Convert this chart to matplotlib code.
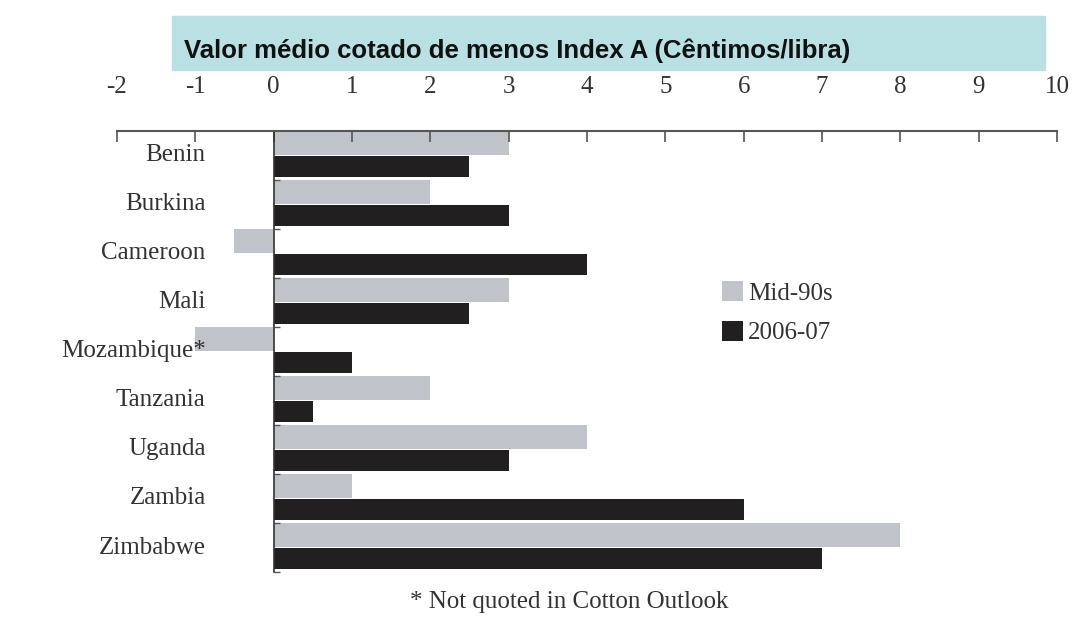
import matplotlib.pyplot as plt
from matplotlib.patches import Rectangle
import numpy as np

### data ##########################################################################

countries = ['Benin', 'Burkina', 'Cameroon', 'Mali', 'Mozambique*',
             'Tanzania', 'Uganda', 'Zambia', 'Zimbabwe']
mid90s = [3, 2, -0.5, 3, -1, 2, 4, 1, 8]
y2006_07 = [2.5, 3, 4, 2.5, 1, 0.5, 3, 6, 7]
x_ticks = list(range(-2, 11))

title = 'Valor médio cotado de menos Index A (Cêntimos/libra)'
note = '* Not quoted in Cotton Outlook'

### figure ########################################################################

serif = 'Liberation Serif'
gray = '#c0c4ca'
black = '#221f20'
fs = 18

fig = plt.figure(figsize=(10.78, 6.21), dpi=100)
ax = fig.add_axes([117 / 1078, 1 - 572 / 621, 940 / 1078, 441 / 621])

pos = np.arange(len(countries))
ax.barh(pos + 0.245, mid90s, height=0.49, color=gray, label='Mid-90s')
ax.barh(pos + 0.72, y2006_07, height=0.42, color=black, label='2006-07')

ax.set_xlim(-2, 10)
ax.set_ylim(len(countries), 0)

# x axis on top, ticks pointing down
ax.xaxis.tick_top()
ax.set_xticks(x_ticks)
ax.set_xticklabels([str(t) for t in x_ticks], family=serif, fontsize=fs, color='#333333')
ax.tick_params(axis='x', direction='in', length=8, width=1.2, pad=24, color='#555555')

# y axis sits on zero
ax.spines['left'].set_position(('data', 0))
for s in ['right', 'bottom']:
    ax.spines[s].set_visible(False)
ax.spines['top'].set_color('#555555')
ax.spines['top'].set_linewidth(1.5)
ax.spines['left'].set_color('#333333')
ax.spines['left'].set_linewidth(1.2)

ax.set_yticks(np.arange(1, len(countries) + 1))
ax.set_yticklabels([])
ax.tick_params(axis='y', direction='in', length=4, width=1, color='#555555')

for i, c in enumerate(countries):
    ax.text(-0.87, i + 0.5, c, family=serif, fontsize=fs, color='#333333',
            ha='right', va='center')

leg = ax.legend(loc='upper left', bbox_to_anchor=(722 / 1078, 1 - 281 / 621),
                bbox_transform=fig.transFigure, frameon=False, borderpad=0,
                borderaxespad=0,
                prop={'family': serif, 'size': fs}, handlelength=0.84,
                handleheight=0.84, handletextpad=0.2, labelspacing=0.65,
                labelcolor='#333333')

# title box
fig.patches.append(Rectangle((172 / 1078, 1 - 70 / 621), 873 / 1078, 54 / 621,
                             transform=fig.transFigure, color='#b9e0e3', zorder=0))
fig.text(184 / 1078, 1 - 51 / 621, title, family='Liberation Sans', weight='bold',
         fontsize=18.5, color='#111111', va='center')

fig.text(569 / 1078, 1 - 602 / 621, note, family=serif, fontsize=fs,
         color='#333333', ha='center', va='center')

fig.savefig('out.png', dpi=100)
